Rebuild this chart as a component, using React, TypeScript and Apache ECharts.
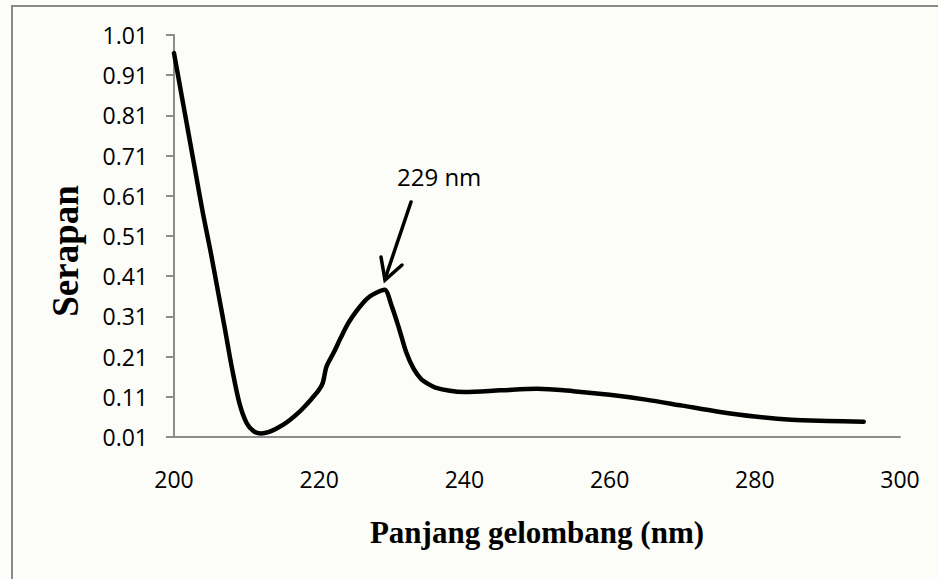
import React, { useEffect, useRef } from "react";
import * as echarts from "echarts";

// Absorption spectrum: wavelength (nm) vs absorbance
const wavelengths = [
  200, 201, 202, 203, 204, 205, 206, 207, 208, 209, 210, 211, 212, 213, 214,
  215, 216, 217, 218, 219, 220, 220.5, 221, 222, 223, 224, 225, 226, 227, 228,
  229, 230, 231, 232, 233, 234, 235, 236, 238, 240, 245, 250, 255, 260, 265,
  270, 275, 280, 285, 290, 295,
];
const absorbance = [
  0.965, 0.865, 0.765, 0.665, 0.565, 0.475, 0.378, 0.28, 0.18, 0.095, 0.045,
  0.024, 0.019, 0.022, 0.03, 0.04, 0.053, 0.068, 0.086, 0.106, 0.128, 0.145,
  0.185, 0.22, 0.258, 0.293, 0.32, 0.343, 0.36, 0.37, 0.376, 0.335, 0.28, 0.22,
  0.18, 0.155, 0.142, 0.133, 0.125, 0.122, 0.126, 0.13, 0.124, 0.115, 0.103,
  0.088, 0.073, 0.061, 0.053, 0.05, 0.048,
];
const xTicks = { min: 200, max: 300, step: 20 };
const yTicks = { min: 0.01, max: 1.01, step: 0.1 };
const peakLabel = "229 nm";
const xTitle = "Panjang gelombang (nm)";
const yTitle = "Serapan";

export default function App() {
  const ref = useRef<HTMLDivElement>(null);

  useEffect(() => {
    if (!ref.current) return;
    const chart = echarts.init(ref.current, null, { renderer: "svg" });
    const axisGray = "#8c8c8c";
    const tickFont = {
      fontFamily: "'Open Sans', 'Noto Sans', sans-serif",
      fontSize: 23,
      color: "#000",
    };

    chart.setOption({
      animation: false,
      backgroundColor: "#fcfcf8",
      grid: { left: 174, right: 38, top: 35, bottom: 142, containLabel: false },
      xAxis: {
        type: "value",
        min: xTicks.min,
        max: xTicks.max,
        interval: xTicks.step,
        name: xTitle,
        nameLocation: "middle",
        nameGap: 95,
        nameTextStyle: {
          fontFamily: "'Liberation Serif', 'Times New Roman', serif",
          fontWeight: "bold",
          fontSize: 31,
          color: "#000",
          verticalAlign: "middle",
        },
        axisLine: { show: true, lineStyle: { color: axisGray, width: 2 } },
        axisTick: { show: false },
        splitLine: { show: false },
        axisLabel: { ...tickFont, margin: 30 },
      },
      yAxis: {
        type: "value",
        min: yTicks.min,
        max: yTicks.max,
        interval: yTicks.step,
        name: yTitle,
        nameLocation: "middle",
        nameGap: 109,
        nameRotate: 90,
        nameTextStyle: {
          fontFamily: "'Liberation Serif', 'Times New Roman', serif",
          fontWeight: "bold",
          fontSize: 37,
          color: "#000",
          verticalAlign: "middle",
          padding: [0, 30, 0, 0],
        },
        axisLine: { show: true, lineStyle: { color: axisGray, width: 2 } },
        axisTick: {
          show: true,
          inside: false,
          length: 8,
          lineStyle: { color: axisGray, width: 2 },
        },
        splitLine: { show: false },
        axisLabel: {
          ...tickFont,
          margin: 26,
          formatter: (v: number) => v.toFixed(2),
        },
      },
      series: [
        {
          type: "line",
          data: wavelengths.map((w, i) => [w, absorbance[i]]),
          smooth: 0.3,
          showSymbol: false,
          lineStyle: { color: "#000", width: 4.5, cap: "round", join: "round" },
        },
      ],
      graphic: [
        {
          type: "rect",
          shape: { x: 12, y: 6, width: 1000, height: 1000 },
          style: { fill: "none", stroke: "#8a8a8a", lineWidth: 2 },
          silent: true,
        },
        {
          type: "text",
          x: 397,
          y: 176,
          style: {
            text: peakLabel,
            fontFamily: "'Open Sans', 'Noto Sans', sans-serif",
            fontSize: 24,
            fill: "#000",
            textVerticalAlign: "middle",
          },
        },
        {
          type: "line",
          shape: { x1: 411, y1: 202, x2: 385, y2: 279 },
          style: { stroke: "#000", lineWidth: 3.5, lineCap: "round" },
        },
        {
          type: "polyline",
          shape: {
            points: [
              [381, 257],
              [385, 280],
              [402, 265],
            ],
          },
          style: {
            stroke: "#000",
            fill: "none",
            lineWidth: 3.5,
            lineCap: "round",
            lineJoin: "miter",
          },
        },
      ],
    });

    return () => chart.dispose();
  }, []);

  return (
    <div
      ref={ref}
      style={{ position: "fixed", left: 0, top: 0, width: 938, height: 579 }}
    />
  );
}
